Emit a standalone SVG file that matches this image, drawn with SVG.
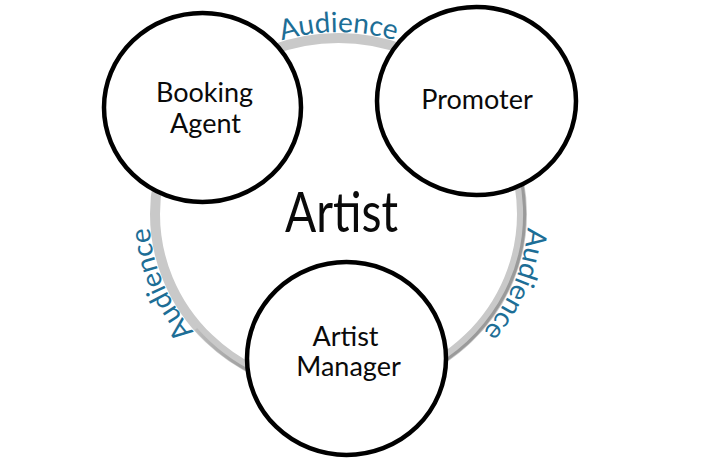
<svg xmlns="http://www.w3.org/2000/svg" xmlns:xlink="http://www.w3.org/1999/xlink" width="705" height="463" viewBox="0 0 705 463">
  <style>
    .node { fill: #ffffff; stroke: #000000; stroke-width: 4.5; }
    .label { font-family: Lato, "Liberation Sans", sans-serif; font-size: 27px; fill: #0a0a0a; text-anchor: middle; }
    .aud { font-family: Lato, "Liberation Sans", sans-serif; font-size: 28px; fill: #1d6e96; }
    .ring { fill: none; stroke: #c9c9c9; stroke-width: 10; }
  </style>
  <defs>
    <linearGradient id="shadeL" gradientUnits="userSpaceOnUse" x1="180" y1="300" x2="250" y2="385">
      <stop offset="0" stop-color="#9a9a9a" stop-opacity="0"/>
      <stop offset="1" stop-color="#9a9a9a" stop-opacity="1"/>
    </linearGradient>
    <path id="arcTop" d="M216.7,74.6 A189.5,182 0 0 1 460.3,74.6"/>
    <path id="arcLeft" d="M249.5,374.7 A189.5,182 0 0 1 158.3,157.8"/>
    <path id="arcRight" d="M518.7,157.8 A189.5,182 0 0 1 427.5,374.7"/>
  </defs>
  <rect width="705" height="463" fill="#ffffff"/>

  <g id="connectors">
    <ellipse class="ring" cx="338.5" cy="214" rx="183.5" ry="176"/>
    <path d="M499.6,124.5 A186.5,179 0 0 1 338.5,393" fill="none" stroke="#9a9a9a" stroke-width="3"/>
    <path d="M338.5,393 A186.5,179 0 0 1 196,329" fill="none" stroke="url(#shadeL)" stroke-width="3"/>
    <text class="aud"><textPath xlink:href="#arcTop" href="#arcTop" startOffset="50%" text-anchor="middle">Audience</textPath></text>
    <text class="aud"><textPath xlink:href="#arcLeft" href="#arcLeft" startOffset="50%" text-anchor="middle">Audience</textPath></text>
    <text class="aud"><textPath xlink:href="#arcRight" href="#arcRight" startOffset="50%" text-anchor="middle">Audience</textPath></text>
  </g>

  <g id="node-artist">
    <text x="341.5" y="232" font-family="Lato, 'Liberation Sans', sans-serif" font-size="56" fill="#0a0a0a" text-anchor="middle" textLength="113" lengthAdjust="spacingAndGlyphs">Artist</text>
  </g>

  <g id="node-booking-agent">
    <ellipse class="node" cx="202.5" cy="107.5" rx="98.5" ry="94.5"/>
    <text class="label" x="204.5" y="102">Booking</text>
    <text class="label" x="205.5" y="133">Agent</text>
  </g>

  <g id="node-promoter">
    <ellipse class="node" cx="476.5" cy="101" rx="99.5" ry="94"/>
    <text class="label" x="477" y="109">Promoter</text>
  </g>

  <g id="node-artist-manager">
    <ellipse class="node" cx="346.5" cy="358.5" rx="99.5" ry="96.5"/>
    <text class="label" x="345.5" y="346">Artist</text>
    <text class="label" x="348.5" y="376">Manager</text>
  </g>
</svg>
